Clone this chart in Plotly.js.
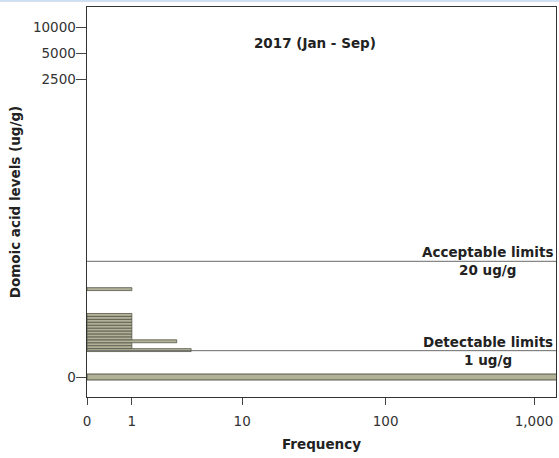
<!DOCTYPE html>
<html>
<head>
<meta charset="utf-8">
<script src="https://cdn.plot.ly/plotly-3.0.1.min.js"></script>
<style>html,body{margin:0;padding:0;background:#fff;}#chart{width:559px;height:458px;}</style>
</head>
<body>
<div id="chart"></div>
<script>
// Domoic acid levels (ug/g) of each histogram bin and the number of samples (frequency)
const zeroLevel = [0];
const zeroFreq = [1500];
const levels = [1.03, 1.20, 1.37, 1.56, 1.77, 1.99, 2.23, 2.49, 2.76, 3.06, 3.39, 3.74, 4.12, 9.1];
const freqs  = [4,    1,    1,    3,    1,    1,    1,    1,    1,    1,    1,    1,    1,    1];
// Reference limits (ug/g)
const limitValues = [20, 1];
const limitLabels = ['Acceptable limits', 'Detectable limits'];
const limitUnits = ['20 ug/g', '1 ug/g'];
// Tick labels
const yTicks = [0, 2500, 5000, 10000];
const xTicks = [0, 1, 10, 100, 1000];
const xTickText = ['0', '1', '10', '100', '1,000'];

// Both axes are drawn on a log10(value + 1) scale
const tr = v => Math.log10(v + 1);

const barFill = '#b0b196';
const barLine = '#55554a';
const font = 'DejaVu Sans, Arial, sans-serif';

const traces = [
  {
    type: 'bar', orientation: 'h',
    x: zeroFreq.map(tr), y: zeroLevel.map(tr),
    width: 0.068,
    marker: {color: barFill, line: {color: barLine, width: 1}},
    hoverinfo: 'skip'
  },
  {
    type: 'bar', orientation: 'h',
    x: freqs.map(tr), y: levels.map(tr),
    width: 0.0334,
    marker: {color: barFill, line: {color: barLine, width: 0.8}},
    hoverinfo: 'skip'
  }
];

const shapes = limitValues.map(v => ({
  type: 'line', xref: 'paper', x0: 0, x1: 1, yref: 'y', y0: tr(v), y1: tr(v),
  line: {color: '#6a6a6a', width: 1}
}));
// pale blue strip along the top of the image
shapes.push({type: 'rect', xref: 'paper', yref: 'paper', x0: -87/469, x1: 472/469,
  y0: 1 + 5/390, y1: 1 + 7.5/390, fillcolor: '#cfe0f3', line: {width: 0}, layer: 'below'});

const annotations = limitValues.map((v, i) => ({
  xref: 'paper', x: 0.997, xanchor: 'right', yref: 'y', y: tr(v), yanchor: 'middle',
  text: '<b>' + limitLabels[i] + '</b><br><b>' + limitUnits[i] + '</b>',
  align: 'center', showarrow: false,
  font: {family: font, size: 13.5, color: '#222'}
}));

const layout = {
  width: 559, height: 458,
  margin: {l: 87, r: 3, t: 7, b: 61},
  paper_bgcolor: '#fff', plot_bgcolor: '#fff',
  showlegend: false,
  barmode: 'overlay',
  title: {
    text: '<b>2017 (Jan - Sep)</b>',
    font: {family: font, size: 13.5, color: '#222'},
    xref: 'paper', x: 0.486, xanchor: 'center',
    yref: 'container', y: 1 - 43/458, yanchor: 'middle'
  },
  xaxis: {
    range: [0, 3.148], fixedrange: true,
    tickmode: 'array', tickvals: xTicks.map(tr), ticktext: xTickText,
    ticks: 'outside', ticklen: 7, tickcolor: '#444', tickwidth: 1,
    ticklabelstandoff: 4,
    showline: true, linecolor: '#333', linewidth: 1.4, mirror: true,
    showgrid: false, zeroline: false,
    tickfont: {family: font, size: 13.5, color: '#333'},
    title: {text: '<b>Frequency</b>', font: {family: font, size: 13.5, color: '#222'}, standoff: 12}
  },
  yaxis: {
    range: [-0.2286, 4.2286], fixedrange: true,
    tickmode: 'array', tickvals: yTicks.map(tr), ticktext: yTicks.map(String),
    ticks: 'outside', ticklen: 10, tickcolor: '#444', tickwidth: 1,
    ticklabelstandoff: -3,
    showline: true, linecolor: '#333', linewidth: 1.4, mirror: true,
    showgrid: false, zeroline: false,
    tickfont: {family: font, size: 13.5, color: '#333'},
    title: {text: '<b>Domoic acid levels (ug/g)</b>', font: {family: font, size: 13.5, color: '#222'}, standoff: 9}
  },
  shapes: shapes,
  annotations: annotations
};

Plotly.newPlot('chart', traces, layout, {displayModeBar: false, staticPlot: true});
</script>
</body>
</html>
